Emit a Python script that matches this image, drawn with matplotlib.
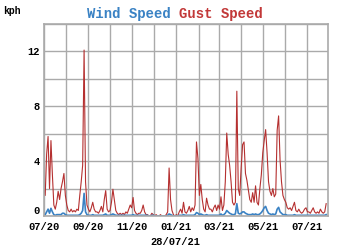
import numpy as np
import pandas as pd
import matplotlib
matplotlib.use('Agg')
import matplotlib.pyplot as plt
import matplotlib.dates as mdates

# samples every 2 days from 2020-07-01
start = '2020-07-01'
gust = [2.0, 1.5, 4.5, 5.8, 2.0, 5.5, 3.0, 0.8, 0.5, 1.0,
        1.8, 1.2, 2.0, 2.5, 3.1, 1.5, 0.8, 0.4, 0.3, 0.5,
        0.3, 0.4, 0.3, 0.5, 0.4, 1.5, 2.5, 3.7, 12.1, 2.5,
        0.8, 0.5, 0.3, 0.6, 1.0, 0.5, 0.3, 0.3, 0.2, 0.4,
        0.7, 0.3, 1.2, 1.85, 0.5, 0.3, 0.4, 1.0, 1.95, 1.2,
        0.4, 0.2, 0.1, 0.2, 0.1, 0.2, 0.1, 0.3, 0.2, 0.5,
        0.8, 0.6, 1.35, 0.4, 0.2, 0.1, 0.2, 0.2, 0.4, 0.8,
        0.3, 0.1, 0.1, 0.0, 0.0, 0.2, 0.1, 0.0, 0.1, 0.0,
        0.0, 0.1, 0.0, 0.0, 0.0, 0.1, 0.3, 3.5, 1.2, 0.4,
        0.1, 0.0, 0.1, 0.0, 0.3, 0.5, 0.2, 1.0, 0.3, 0.2,
        0.4, 0.7, 0.3, 0.6, 0.4, 0.8, 5.4, 4.2, 1.5, 2.3,
        1.2, 0.5, 0.3, 1.3, 0.8, 0.5, 0.5, 0.3, 0.6, 0.8,
        0.4, 0.8, 0.5, 1.4, 0.4, 0.8, 2.5, 6.05, 4.5, 3.7,
        2.5, 1.0, 0.8, 1.0, 9.1, 2.0, 1.5, 3.5, 5.2, 5.4,
        3.1, 2.6, 1.9, 1.2, 1.0, 1.7, 1.0, 2.2, 1.0, 0.8,
        2.0, 3.0, 4.6, 5.5, 6.3, 4.6, 2.5, 1.8, 1.5, 2.0,
        1.4, 1.6, 6.25, 7.3, 4.1, 2.5, 1.5, 1.2, 1.0, 0.6,
        0.5, 0.6, 0.4, 0.7, 1.0, 0.4, 0.3, 0.5, 0.3, 0.2,
        0.3, 0.5, 0.6, 0.3, 0.3, 0.2, 0.4, 0.6, 0.3, 0.2,
        0.3, 0.2, 0.5, 0.3, 0.2, 0.3, 0.9]
wind = [0.1, 0.1, 0.3, 0.5, 0.2, 0.56, 0.3, 0.1, 0.05, 0.1,
        0.1, 0.1, 0.1, 0.2, 0.2, 0.1, 0.05, 0.05, 0.05, 0.05,
        0.05, 0.05, 0.05, 0.05, 0.05, 0.1, 0.2, 0.4, 1.65, 0.3,
        0.1, 0.05, 0.05, 0.05, 0.1, 0.05, 0.05, 0.05, 0.05, 0.05,
        0.05, 0.05, 0.1, 0.15, 0.05, 0.05, 0.05, 0.1, 0.15, 0.1,
        0.05, 0.05, 0.05, 0.05, 0.05, 0.05, 0.05, 0.05, 0.05, 0.05,
        0.05, 0.05, 0.1, 0.05, 0.05, 0.05, 0.05, 0.05, 0.05, 0.05,
        0.05, 0.05, 0.05, 0.0, 0.0, 0.05, 0.05, 0.0, 0.0, 0.0,
        0.0, 0.0, 0.0, 0.0, 0.0, 0.0, 0.05, 0.15, 0.1, 0.05,
        0.0, 0.0, 0.0, 0.0, 0.05, 0.05, 0.05, 0.1, 0.05, 0.05,
        0.05, 0.05, 0.05, 0.05, 0.05, 0.1, 0.25, 0.2, 0.1, 0.15,
        0.1, 0.05, 0.05, 0.1, 0.05, 0.05, 0.05, 0.05, 0.05, 0.05,
        0.05, 0.05, 0.05, 0.15, 0.05, 0.1, 0.2, 0.4, 0.3, 0.2,
        0.15, 0.1, 0.1, 0.15, 0.9, 0.2, 0.15, 0.2, 0.3, 0.3,
        0.2, 0.15, 0.1, 0.1, 0.1, 0.15, 0.1, 0.15, 0.1, 0.1,
        0.15, 0.25, 0.4, 0.6, 0.7, 0.4, 0.2, 0.15, 0.1, 0.15,
        0.1, 0.15, 0.5, 0.63, 0.3, 0.2, 0.1, 0.1, 0.1, 0.05,
        0.05, 0.05, 0.05, 0.05, 0.1, 0.05, 0.05, 0.05, 0.05, 0.05,
        0.05, 0.05, 0.05, 0.05, 0.05, 0.05, 0.05, 0.05, 0.05, 0.05,
        0.05, 0.05, 0.05, 0.05, 0.05, 0.05, 0.1]

dates = pd.date_range(start, periods=len(gust), freq='2D')

blue = '#3a82c4'
red = '#b53030'
grid_col = '#aaaaaa'
font = 'Liberation Mono'

fig = plt.figure(figsize=(3.5, 2.5), dpi=100)
ax = fig.add_axes([0.125, 0.136, 0.811, 0.768])

ax.plot(dates, gust, color=red, lw=0.8)
ax.plot(dates, wind, color=blue, lw=1.2)

ax.set_ylim(0, 14)
ax.set_xlim(pd.Timestamp('2020-07-01'), pd.Timestamp('2021-07-30'))
ax.set_yticks([0, 4, 8, 12])
ax.set_yticks(np.arange(0, 15, 2), minor=True)
ax.xaxis.set_major_locator(mdates.MonthLocator(bymonth=[1, 3, 5, 7, 9, 11]))
ax.xaxis.set_minor_locator(mdates.MonthLocator())
ax.xaxis.set_major_formatter(mdates.DateFormatter('%m/%y'))
ax.grid(True, which='both', color=grid_col, lw=1.0)
ax.set_axisbelow(True)
ax.tick_params(which='both', length=0, labelsize=7.5)
ax.tick_params(axis='x', pad=4)
ax.tick_params(axis='y', pad=3)
for lab in ax.get_xticklabels() + ax.get_yticklabels():
    lab.set_fontfamily(font)
    lab.set_fontweight('bold')
ax.get_yticklabels()[0].set_va('bottom')
for s in ax.spines.values():
    s.set_color(grid_col)
    s.set_linewidth(1.2)

fig.text(0.01, 0.975, 'kph', fontsize=7, fontweight='bold', family=font, va='top')
fig.text(87 / 350, 0.972, 'Wind Speed', fontsize=10, fontweight='bold', family=font,
         color=blue, va='top')
fig.text(179 / 350, 0.972, 'Gust Speed', fontsize=10, fontweight='bold', family=font,
         color='#c23838', va='top')
fig.text(0.5, 0.02, '28/07/21', fontsize=7.5, fontweight='bold', family=font, ha='center')

fig.savefig('out.png', dpi=100)
